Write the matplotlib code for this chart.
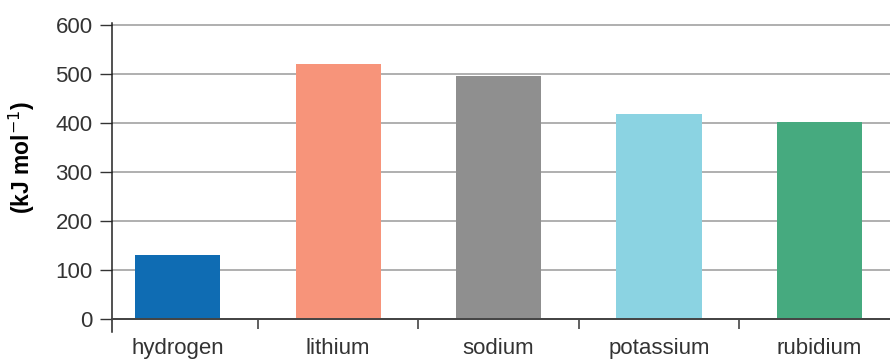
import matplotlib.pyplot as plt

elements = ["hydrogen", "lithium", "sodium", "potassium", "rubidium"]
energies = [131, 520, 496, 419, 403]
bar_colors = ["#0f6cb3", "#f7947a", "#8f8f8f", "#8bd3e2", "#46aa7f"]
y_ticks = [0, 100, 200, 300, 400, 500, 600]

plt.rcParams["font.family"] = ["Liberation Sans", "DejaVu Sans"]

fig = plt.figure(figsize=(8.9, 3.61), dpi=100)
ax = fig.add_axes([0.1258, 0.0803, 0.8742, 0.8560])

x = list(range(len(elements)))
ax.bar(x, energies, width=0.53, color=bar_colors, zorder=3)

ax.set_xlim(-0.41, 4.44)
ax.set_ylim(-26.5, 604)
ax.set_yticks(y_ticks)
ax.set_yticklabels([str(v) for v in y_ticks])
ax.yaxis.grid(True, color="#9a9a9a", linewidth=1.1, zorder=1)

# category labels centred under bars, tick marks between categories
ax.set_xticks(x)
ax.set_xticklabels(elements)
ax.set_xticks([i + 0.5 for i in range(len(elements) - 1)], minor=True)
ax.tick_params(axis="x", which="major", length=0, pad=14,
               labelsize=16, labelcolor="#333333")
ax.tick_params(axis="x", which="minor", length=7, width=1.2, color="#444444")
ax.tick_params(axis="y", length=8.5, width=1.0, color="#333333", pad=5.5,
               labelsize=16, labelcolor="#333333")

for side in ("top", "right"):
    ax.spines[side].set_visible(False)
ax.spines["bottom"].set_position(("data", 0))
ax.spines["bottom"].set_color("#444444")
ax.spines["bottom"].set_linewidth(1.4)
ax.spines["bottom"].set_zorder(4)
ax.spines["left"].set_color("#222222")
ax.spines["left"].set_linewidth(1.1)

ax.set_ylabel("(kJ mol$^{-1}$)", fontsize=16.5, fontweight="bold")
ax.yaxis.set_label_coords(-0.096, 0.566)

fig.savefig("out.png", dpi=100)
